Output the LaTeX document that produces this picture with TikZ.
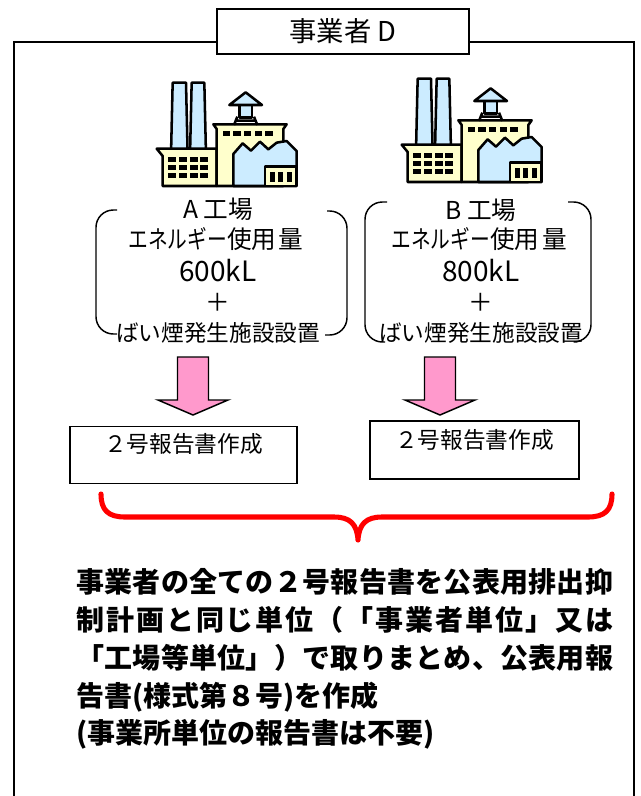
\documentclass[tikz,border=0pt]{standalone}
\usepackage{fontspec}
\setmainfont{Noto Sans CJK JP}
\definecolor{arrowpink}{HTML}{FF99CC}
\definecolor{skyfill}{HTML}{CCECFF}
\definecolor{creamfill}{HTML}{FFFFCC}
\definecolor{bracered}{HTML}{FF0000}

% spread the characters of #2 evenly over a line of width #1
\makeatletter
\newcommand\spreadtext[2]{\makebox[#1][s]{\let\spsep\relax\@tfor\spch:=#2\do{\spsep\spch\let\spsep\hfil}}}
\makeatother
% narrow katakana
\newcommand\narrowkana[1]{\scalebox{0.8}[1]{#1}}

\tikzset{
  frameline/.style={line width=1.5pt},
  titlebox/.style={draw, line width=1.2pt, fill=white, minimum width=189pt, minimum height=33.75pt,
    font=\fontsize{20.5}{24}\selectfont},
  plantlabel/.style={inner sep=0pt, font=\fontsize{18.5}{22}\selectfont},
  plantnumber/.style={inner sep=0pt, font=\fontsize{21}{24}\selectfont},
  plantsmall/.style={inner sep=0pt, font=\fontsize{17}{20}\selectfont},
  bracketline/.style={line width=1.1pt, rounded corners=13pt},
  reportbox/.style={draw, line width=1.1pt, fill=white},
  reporttext/.style={inner sep=0pt, font=\fontsize{17}{20}\selectfont},
  summary/.style={inner sep=0pt, anchor=west, font=\fontsize{21}{24}\selectfont\bfseries},
  bracepath/.style={draw=bracered, line width=3.8pt, line cap=round, line join=round},
  blockarrow/.pic={
    \filldraw[fill=arrowpink, line width=1.1pt, line join=miter]
      (0,0) -- (35,-15) -- (15.5,-15) -- (15.5,-58) -- (-15.5,-58) -- (-15.5,-15) -- (-35,-15) -- cycle;
  },
  factory/.pic={
    \begin{scope}[scale=1/3, line width=1.9pt, line join=round]
      % two smokestacks
      \filldraw[fill=skyfill] (68,68) -- (108,68) -- (113,285) -- (63,285) -- cycle;
      \filldraw[fill=skyfill] (125,68) -- (163,68) -- (168,285) -- (120,285) -- cycle;
      % low building on the left
      \filldraw[fill=creamfill] (20,266) -- (200,266) -- (200,378) -- (38,378) -- (38,288) -- cycle;
      \foreach \yy in {292,316,340}
        \foreach \xx in {55,87,119,151}
          \fill (\xx,\yy) rectangle ++(24,13);
      % main building
      \filldraw[fill=creamfill] (190,193) -- (410,193) -- (400,207) -- (400,378) -- (200,378) -- (200,207) -- cycle;
      \foreach \xx in {218,250,282,314,346}
        \fill (\xx,212) rectangle ++(22,16);
      % water tower
      \draw (262,170) -- (252,195) (312,170) -- (322,195) (258,182) -- (316,182);
      \filldraw[fill=skyfill] (268,132) rectangle (306,172);
      \filldraw[fill=skyfill] (238,135) -- (287,97) -- (336,135) -- cycle;
      % saw-tooth hall
      \filldraw[fill=skyfill] (250,378) -- (250,282) -- (278,250) -- (303,272) -- (330,245)
        -- (355,268) -- (380,248) -- (410,243) -- (440,273) -- (440,378) -- cycle;
      % annex
      \filldraw[fill=creamfill] (345,320) rectangle (440,378);
      \foreach \xx in {360,385,410}
        \fill (\xx,335) rectangle ++(15,32);
    \end{scope}
  }
}

\begin{document}
\begin{tikzpicture}[x=0.75pt, y=-0.75pt]
\useasboundingbox (0,0) rectangle (641,796);

% company frame with its title
\coordinate (frametop) at (14,42);
\node[titlebox] (title) at (343,31.5) {事業者 D};
\draw[frameline] (14,800) |- (title.west |- frametop);
\draw[frameline] (title.east |- frametop) -| (634,800);

% plant pictograms
\pic (plantA) at (150,60) {factory};
\pic (plantB) at (395,56) {factory};

% plant A figures
\node[plantlabel] (a1) at (218,209) {A\hspace{4pt}工場};
\node[plantlabel] (a2) at (216,239) {\narrowkana{エネルギー}使用\hspace{2pt}量};
\node[plantnumber] (a3) at (218,271) {600kL};
\node[plantlabel] (a4) at (218,302) {＋};
\node[plantsmall] (a5) at (218,333) {ばい煙発生施設設置};
\draw[bracketline] (117,210) -- (96,210) -- (96,334) -- (117,334);
\draw[bracketline] (327,211) -- (347,211) -- (347,335) -- (325,335);

% plant B figures
\node[plantlabel] (b1) at (481,210) {B\hspace{4pt}工場};
\node[plantlabel] (b2) at (479,239) {\narrowkana{エネルギー}使用\hspace{2pt}量};
\node[plantnumber] (b3) at (481,271) {800kL};
\node[plantlabel] (b4) at (481,302) {＋};
\node[plantsmall] (b5) at (481,333) {ばい煙発生施設設置};
\draw[bracketline] (387,202) -- (365,202) -- (365,342) -- (385,342);
\draw[bracketline] (568,202) -- (591,202) -- (591,342) -- (577,342);

% per-plant reports
\node[reportbox, minimum width=170.25pt, minimum height=42.75pt] (repA) at (183.5,455) {};
\node[reporttext] (repAtext) at ([yshift=-13.5pt]repA.north) {２号報告書作成};
\node[reportbox, minimum width=156.75pt, minimum height=43.5pt] (repB) at (474.5,450) {};
\node[reporttext] (repBtext) at ([yshift=-15pt]repB.north) {２号報告書作成};

% arrows from plants to reports
\coordinate (tipA) at (193,415);
\coordinate (tipB) at (440,415);
\pic (arrA) at (tipA) {blockarrow};
\pic (arrB) at (tipB) {blockarrow};

% brace gathering both reports
\coordinate (braceL) at (101,494);
\coordinate (braceM) at (358,540);
\coordinate (braceR) at (612,494);
\path[bracepath] (braceL) .. controls (101,510) and (108,517) .. (125,517) -- (334,517)
  .. controls (350,517) and (357,524) .. (braceM)
  .. controls (359,524) and (366,517) .. (382,517) -- (588,517)
  .. controls (605,517) and (612,510) .. (braceR);

% summary text
\node[summary] (s1) at (76,582) {\spreadtext{402.75pt}{事業者の全ての２号報告書を公表用排出抑}};
\node[summary] (s2) at (76,620) {\spreadtext{402.75pt}{制計画と同じ単位（「事業者単位」又は}};
\node[summary] (s3) at (76,658) {\spreadtext{402.75pt}{「工場等単位」）で取りまとめ、公表用報}};
\node[summary] (s4) at (76,697) {告書(様式第８号)を作成};
\node[summary] (s5) at (76,734) {(事業所単位の報告書は不要)};
\end{tikzpicture}
\end{document}
